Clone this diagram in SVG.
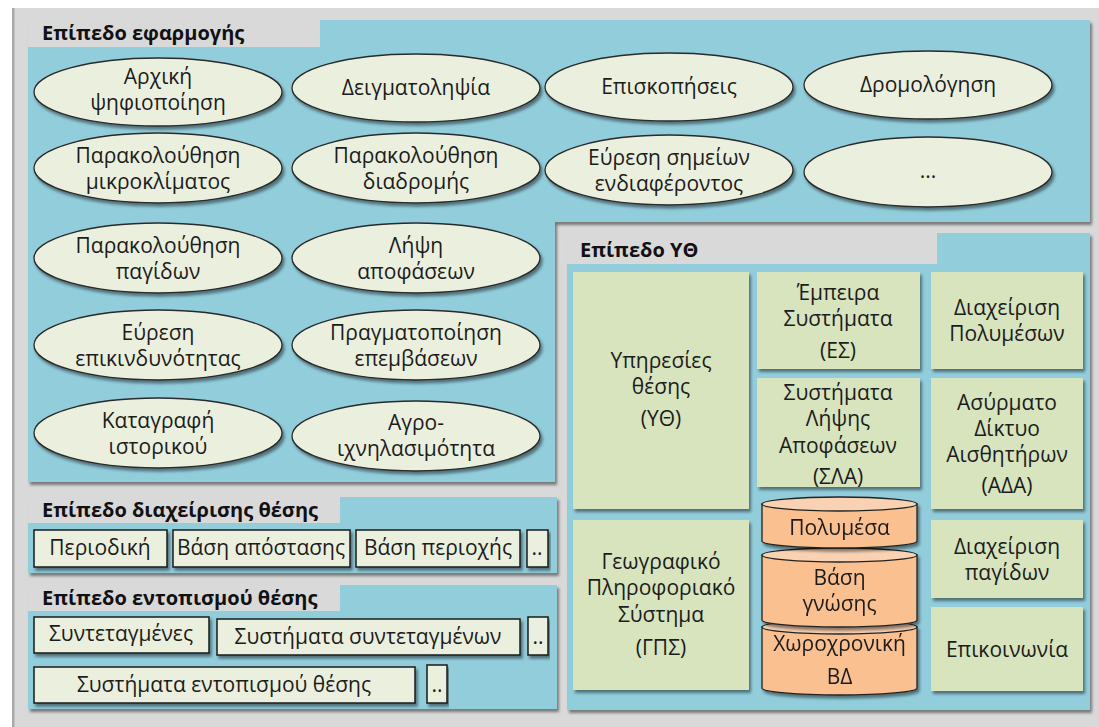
<svg xmlns="http://www.w3.org/2000/svg" width="1099" height="727" viewBox="0 0 1099 727">
  <style>
    text { font-family: "Open Sans", "Noto Sans", "DejaVu Sans", sans-serif; fill: #1c1c1c; text-anchor: middle; dominant-baseline: central; }
    .t { font-size: 21px; }
    .h { font-size: 20px; font-weight: bold; text-anchor: start; fill: #111; }
    .panel { fill: #92cddc; filter: url(#sh); }
    .tab { fill: #d9d9d9; }
    .oval { fill: #ebf0de; stroke: #2a2a2a; stroke-width: 1.3; filter: url(#sh); }
    .box { fill: #ebf0de; stroke: #1a1a1a; stroke-width: 1.5; filter: url(#sh); }
    .gbox { fill: #d7e4bd; filter: url(#sh); }
    .cyl { fill: #fac090; stroke: #222; stroke-width: 1.3; }
    .cylTop { fill: #f9d2b4; stroke: #222; stroke-width: 1.3; }
  </style>
  <defs>
    <filter id="sh" x="-5%" y="-5%" width="115%" height="120%">
      <feDropShadow dx="2" dy="3" stdDeviation="1.5" flood-color="#000" flood-opacity="0.45"/>
    </filter>
  </defs>

  <!-- outer frame -->
  <rect x="12" y="8" width="1100" height="730" fill="#d9d9d9"/>
  <rect x="12" y="8" width="2.5" height="730" fill="#a9a9a9"/>

  <!-- application layer (L-shaped) -->
  <g id="app-layer">
    <path class="panel" d="M28,20 H1090 V222 H555 V482 H28 Z"/>
    <rect class="tab" x="28" y="20" width="292" height="27"/>
    <text class="h" x="42" y="32">Επίπεδο εφαρμογής</text>
  </g>

  <g id="app-01"><ellipse class="oval" cx="158" cy="92" rx="124" ry="34"/><text class="t" x="158" y="76">Αρχική</text><text class="t" x="158" y="102">ψηφιοποίηση</text></g>
  <g id="app-02"><ellipse class="oval" cx="416" cy="88" rx="124" ry="34"/><text class="t" x="416" y="87">Δειγματοληψία</text></g>
  <g id="app-03"><ellipse class="oval" cx="669" cy="87" rx="124" ry="34"/><text class="t" x="669" y="86">Επισκοπήσεις</text></g>
  <g id="app-04"><ellipse class="oval" cx="928" cy="85" rx="124" ry="34"/><text class="t" x="928" y="84">Δρομολόγηση</text></g>

  <g id="app-05"><ellipse class="oval" cx="158" cy="168" rx="124" ry="35"/><text class="t" x="158" y="155">Παρακολούθηση</text><text class="t" x="158" y="181">μικροκλίματος</text></g>
  <g id="app-06"><ellipse class="oval" cx="416" cy="168" rx="124" ry="35"/><text class="t" x="416" y="155">Παρακολούθηση</text><text class="t" x="416" y="181">διαδρομής</text></g>
  <g id="app-07"><ellipse class="oval" cx="669" cy="170" rx="124" ry="35"/><text class="t" x="669" y="157">Εύρεση σημείων</text><text class="t" x="669" y="183">ενδιαφέροντος</text></g>
  <g id="app-08"><ellipse class="oval" cx="928" cy="172" rx="124" ry="35"/><text class="t" x="928" y="170">...</text></g>

  <g id="app-09"><ellipse class="oval" cx="158" cy="258" rx="124" ry="35"/><text class="t" x="158" y="245">Παρακολούθηση</text><text class="t" x="158" y="271">παγίδων</text></g>
  <g id="app-10"><ellipse class="oval" cx="416" cy="258" rx="124" ry="35"/><text class="t" x="416" y="245">Λήψη</text><text class="t" x="416" y="271">αποφάσεων</text></g>

  <g id="app-11"><ellipse class="oval" cx="158" cy="345" rx="124" ry="35"/><text class="t" x="158" y="332">Εύρεση</text><text class="t" x="158" y="358">επικινδυνότητας</text></g>
  <g id="app-12"><ellipse class="oval" cx="416" cy="345" rx="124" ry="35"/><text class="t" x="416" y="332">Πραγματοποίηση</text><text class="t" x="416" y="358">επεμβάσεων</text></g>

  <g id="app-13"><ellipse class="oval" cx="158" cy="433" rx="124" ry="35"/><text class="t" x="158" y="420">Καταγραφή</text><text class="t" x="158" y="446">ιστορικού</text></g>
  <g id="app-14"><ellipse class="oval" cx="416" cy="436" rx="124" ry="35"/><text class="t" x="416" y="422">Αγρο-</text><text class="t" x="416" y="448">ιχνηλασιμότητα</text></g>

  <!-- location management layer -->
  <g id="mgmt-layer">
    <rect class="panel" x="28" y="497" width="529" height="76"/>
    <rect class="tab" x="28" y="497" width="312" height="26"/>
    <text class="h" x="42" y="509">Επίπεδο διαχείρισης θέσης</text>
  </g>
  <g id="mgmt-01"><rect class="box" x="34" y="530" width="133" height="37"/><text class="t" x="100" y="547">Περιοδική</text></g>
  <g id="mgmt-02"><rect class="box" x="173" y="530" width="177" height="37"/><text class="t" x="261" y="547">Βάση απόστασης</text></g>
  <g id="mgmt-03"><rect class="box" x="356" y="530" width="164" height="37"/><text class="t" x="438" y="547">Βάση περιοχής</text></g>
  <g id="mgmt-04"><rect class="box" x="527" y="530" width="21" height="37"/><text class="t" x="537" y="547">..</text></g>

  <!-- positioning layer -->
  <g id="pos-layer">
    <rect class="panel" x="28" y="585" width="529" height="124"/>
    <rect class="tab" x="28" y="585" width="312" height="26"/>
    <text class="h" x="42" y="597">Επίπεδο εντοπισμού θέσης</text>
  </g>
  <g id="pos-01"><rect class="box" x="34" y="617" width="175" height="36"/><text class="t" x="121" y="633">Συντεταγμένες</text></g>
  <g id="pos-02"><rect class="box" x="217" y="619" width="303" height="36"/><text class="t" x="368" y="636">Συστήματα συντεταγμένων</text></g>
  <g id="pos-03"><rect class="box" x="528" y="617" width="20" height="38"/><text class="t" x="538" y="636">..</text></g>
  <g id="pos-04"><rect class="box" x="34" y="667" width="381" height="36"/><text class="t" x="224" y="684">Συστήματα εντοπισμού θέσης</text></g>
  <g id="pos-05"><rect class="box" x="427" y="665" width="20" height="38"/><text class="t" x="437" y="684">..</text></g>

  <!-- location services layer -->
  <g id="ls-layer">
    <rect class="panel" x="567" y="233" width="523" height="477"/>
    <rect class="tab" x="567" y="233" width="370" height="31"/>
    <text class="h" x="580" y="249">Επίπεδο ΥΘ</text>
  </g>
  <g id="ls-services"><rect class="gbox" x="573" y="272" width="176" height="237"/><text class="t" x="661" y="360">Υπηρεσίες</text><text class="t" x="661" y="386">θέσης</text><text class="t" x="661" y="418">(ΥΘ)</text></g>
  <g id="ls-expert"><rect class="gbox" x="757" y="272" width="163" height="97"/><text class="t" x="838" y="292">Έμπειρα</text><text class="t" x="838" y="318">Συστήματα</text><text class="t" x="838" y="350">(ΕΣ)</text></g>
  <g id="ls-multimedia"><rect class="gbox" x="931" y="272" width="152" height="97"/><text class="t" x="1007" y="307">Διαχείριση</text><text class="t" x="1007" y="333">Πολυμέσων</text></g>
  <g id="ls-dss"><rect class="gbox" x="757" y="378" width="163" height="109"/><text class="t" x="838" y="392">Συστήματα</text><text class="t" x="838" y="418">Λήψης</text><text class="t" x="838" y="445">Αποφάσεων</text><text class="t" x="838" y="476">(ΣΛΑ)</text></g>
  <g id="ls-wsn"><rect class="gbox" x="931" y="378" width="152" height="131"/><text class="t" x="1007" y="402">Ασύρματο</text><text class="t" x="1007" y="428">Δίκτυο</text><text class="t" x="1007" y="454">Αισθητήρων</text><text class="t" x="1007" y="485">(ΑΔΑ)</text></g>
  <g id="ls-gis"><rect class="gbox" x="573" y="520" width="176" height="170"/><text class="t" x="661" y="561">Γεωγραφικό</text><text class="t" x="661" y="587">Πληροφοριακό</text><text class="t" x="661" y="614">Σύστημα</text><text class="t" x="661" y="647">(ΓΠΣ)</text></g>
  <g id="ls-traps"><rect class="gbox" x="931" y="520" width="152" height="78"/><text class="t" x="1007" y="546">Διαχείριση</text><text class="t" x="1007" y="572">παγίδων</text></g>
  <g id="ls-comm"><rect class="gbox" x="931" y="607" width="152" height="84"/><text class="t" x="1007" y="649">Επικοινωνία</text></g>

  <!-- database stack: drawn bottom-up so each upper drum covers the lower lid -->
  <g id="db-spatiotemporal" filter="url(#sh)">
    <path class="cyl" d="M762,627 V688 A77.5,7 0 0 0 917,688 V627 Z"/>
    <ellipse class="cylTop" cx="839.5" cy="627" rx="77.5" ry="7"/>
    <text class="t" x="839.5" y="643">Χωροχρονική</text><text class="t" x="839.5" y="676">ΒΔ</text>
  </g>
  <g id="db-knowledge" filter="url(#sh)">
    <path class="cyl" d="M762,555 V620 A77.5,7 0 0 0 917,620 V555 Z"/>
    <ellipse class="cylTop" cx="839.5" cy="555" rx="77.5" ry="7"/>
    <text class="t" x="839.5" y="577">Βάση</text><text class="t" x="839.5" y="603">γνώσης</text>
  </g>
  <g id="db-multimedia" filter="url(#sh)">
    <path class="cyl" d="M762,504 V541 A77.5,7 0 0 0 917,541 V504 Z"/>
    <ellipse class="cylTop" cx="839.5" cy="504" rx="77.5" ry="7"/>
    <text class="t" x="839.5" y="527">Πολυμέσα</text>
  </g>

  <g id="connectors"/>
</svg>
